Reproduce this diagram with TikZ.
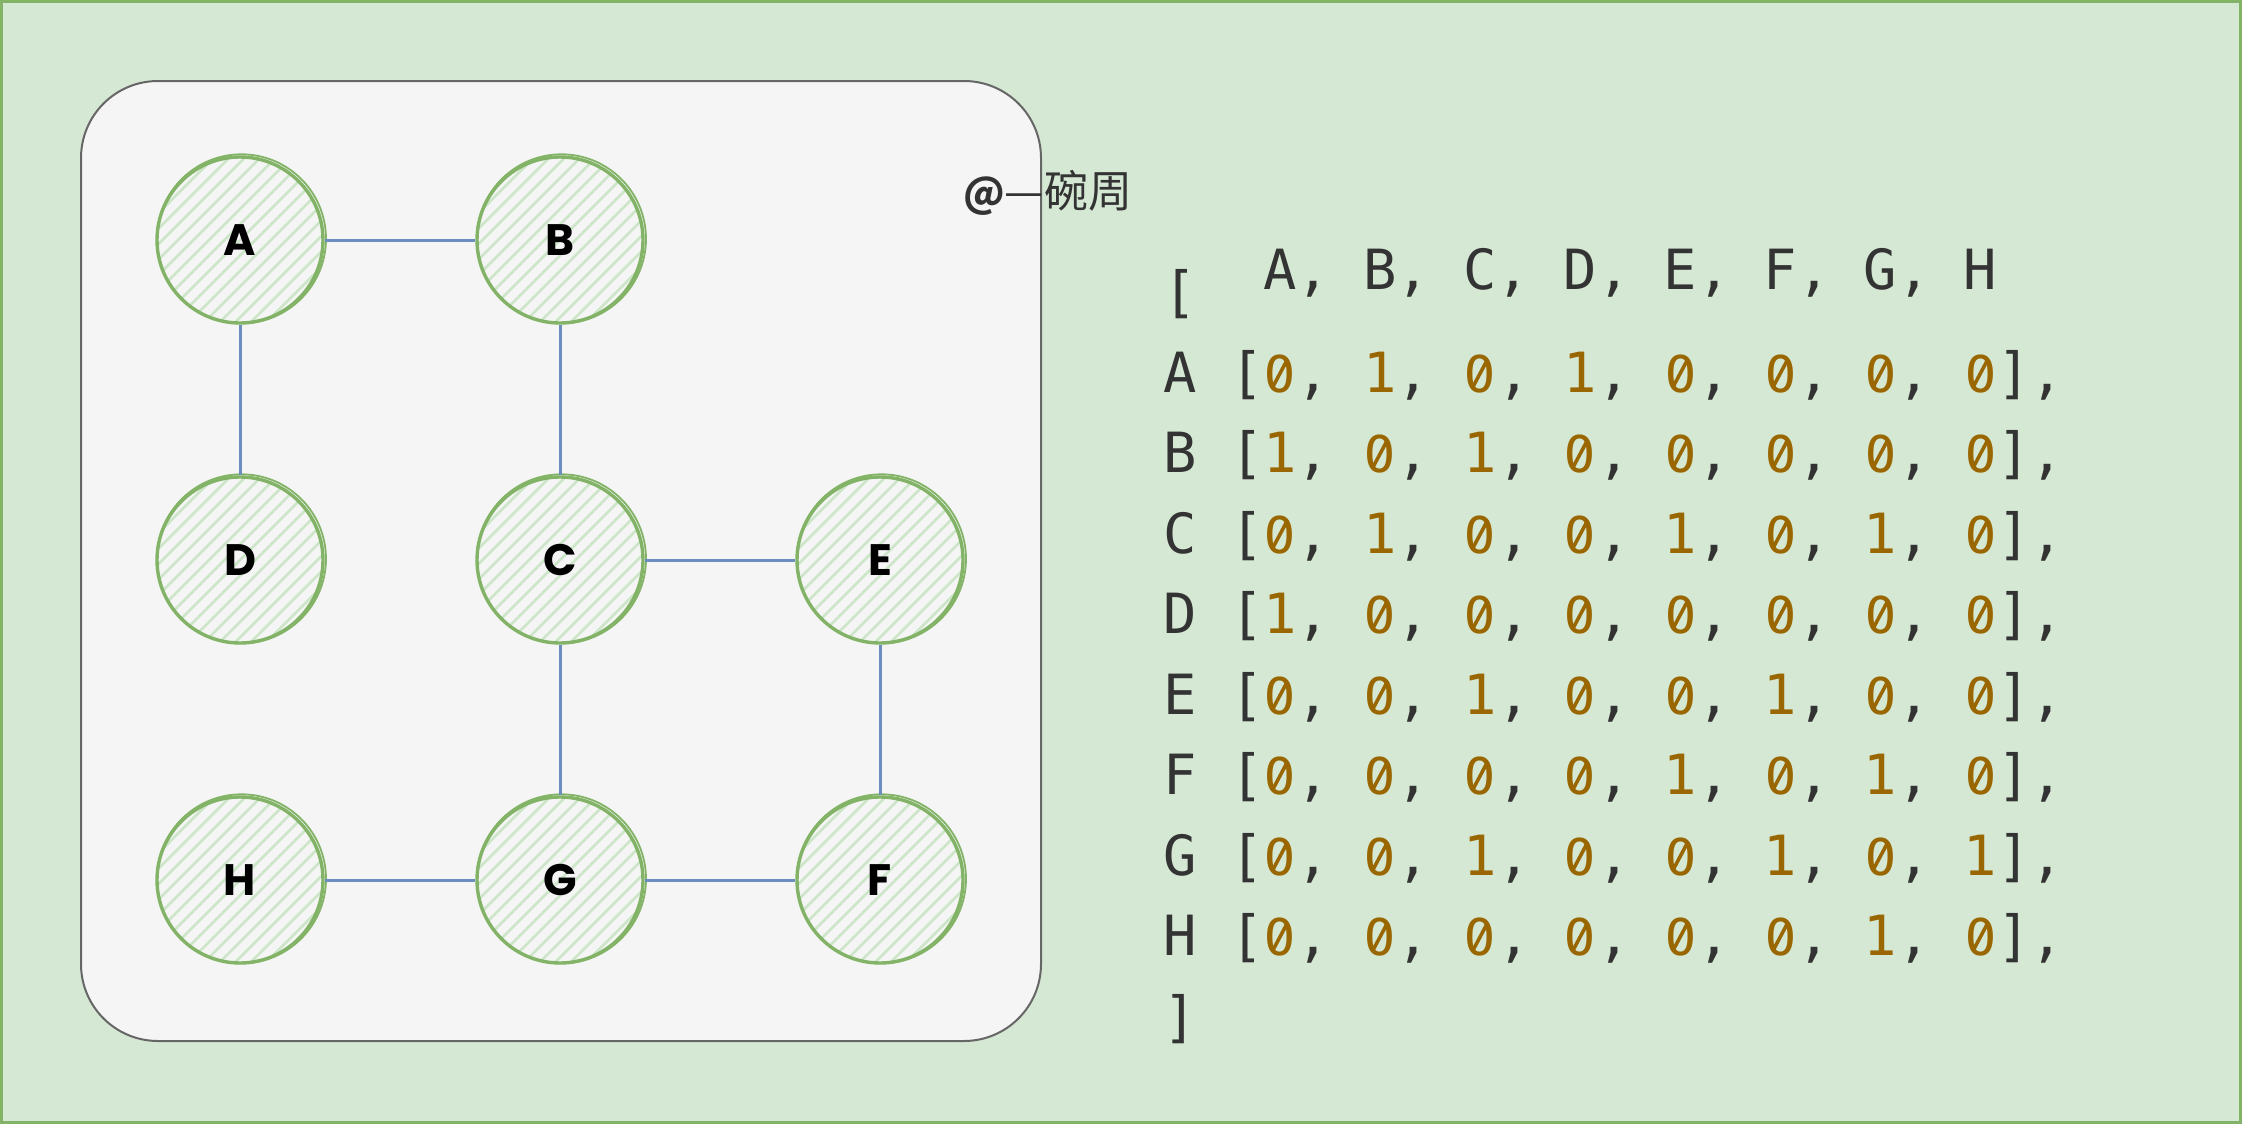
\documentclass[tikz,border=0pt]{standalone}
\usepackage{fontspec}
\newfontfamily\monofont{DejaVu Sans Mono}
\newfontfamily\zerofont{Fira Sans}
\newfontfamily\cjkfont{Noto Sans CJK SC}
\newfontfamily\nodefont{Poppins}
\definecolor{bgGreen}{HTML}{D5E8D4}
\definecolor{bdGreen}{HTML}{82B366}
\definecolor{panelFill}{HTML}{F5F5F5}
\definecolor{panelLine}{HTML}{666666}
\definecolor{edgeBlue}{HTML}{6C8EBF}
\definecolor{hatchGreen}{HTML}{CDE5C9}
\definecolor{txtDark}{HTML}{333333}
\definecolor{digitBrown}{HTML}{996600}
% slashed zero: a plain zero with a thin slash across its counter
\newcommand\zr{\textcolor{digitBrown}{\makebox[0.602em][c]{\zerofont 0}\llap{\makebox[0.602em][c]{\raisebox{0.345em}{\rotatebox[origin=c]{62}{\rule[-0.032em]{0.56em}{0.064em}}}}}}}
\newcommand\on{\textcolor{digitBrown}{1}}
\tikzset{
  vertex/.style={circle, minimum size=166pt, inner sep=0pt, draw=bdGreen, line width=3.4pt,
    font=\nodefont\bfseries\fontsize{44}{50}\selectfont, text=black,
    path picture={\foreach \k in {-13,...,13}{\draw[hatchGreen, line width=2.6pt]
      ([shift={(\k*15.5-110,110)}]path picture bounding box.center) -- ++(220,-220);}}},
  sketch/.style={draw=bdGreen, line width=1.8pt},
  edge/.style={draw=edgeBlue, line width=3pt},
  mono/.style={anchor=base west, inner sep=0pt, text=txtDark,
    font=\monofont\fontsize{55.4}{60}\selectfont},
}
\begin{document}
\begin{tikzpicture}[x=1pt,y=-1pt]
\useasboundingbox (0,0) rectangle (2242,1124);
\draw[fill=bgGreen, draw=bdGreen, line width=3pt] (1.5,1.5) rectangle (2240.5,1122.5);
\draw[fill=panelFill, draw=panelLine, line width=2pt, rounded corners=77pt] (81,81) rectangle (1041,1041);

\node[vertex] (A) at (240,240) {A};
\node[vertex] (B) at (560,240) {B};
\node[vertex] (D) at (240,560) {D};
\node[vertex] (C) at (560,560) {C};
\node[vertex] (E) at (880,560) {E};
\node[vertex] (H) at (240,880) {H};
\node[vertex] (G) at (560,880) {G};
\node[vertex] (F) at (880,880) {F};
\foreach \n in {A,B,C,D,E,F,G,H}{
  \draw[sketch] ([shift={(1.5,-1.2)}]\n.center) circle[radius=84.5];
}

\draw[edge] (A) -- (B);
\draw[edge] (A) -- (D);
\draw[edge] (B) -- (C);
\draw[edge] (C) -- (E);
\draw[edge] (C) -- (G);
\draw[edge] (E) -- (F);
\draw[edge] (H) -- (G);
\draw[edge] (G) -- (F);

\node[anchor=west, inner sep=0pt, text=txtDark, font=\cjkfont\fontsize{44}{50}\selectfont] (author) at (963,193) {{\bfseries\fontsize{40}{50}\selectfont @}—碗周};

\node[mono] (hdr) at (1263.3,289) {A, B, C, D, E, F, G, H};
\node[mono] (open) at (1163.3,311.5) {[};
\node[mono] (rA) at (1163.3,392) {A [\zr, \on, \zr, \on, \zr, \zr, \zr, \zr],};
\node[mono] (rB) at (1163.3,472.5) {B [\on, \zr, \on, \zr, \zr, \zr, \zr, \zr],};
\node[mono] (rC) at (1163.3,553) {C [\zr, \on, \zr, \zr, \on, \zr, \on, \zr],};
\node[mono] (rD) at (1163.3,633.5) {D [\on, \zr, \zr, \zr, \zr, \zr, \zr, \zr],};
\node[mono] (rE) at (1163.3,714) {E [\zr, \zr, \on, \zr, \zr, \on, \zr, \zr],};
\node[mono] (rF) at (1163.3,794.5) {F [\zr, \zr, \zr, \zr, \on, \zr, \on, \zr],};
\node[mono] (rG) at (1163.3,875) {G [\zr, \zr, \on, \zr, \zr, \on, \zr, \on],};
\node[mono] (rH) at (1163.3,955.5) {H [\zr, \zr, \zr, \zr, \zr, \zr, \on, \zr],};
\node[mono] (close) at (1163.3,1036) {]};
\end{tikzpicture}
\end{document}
